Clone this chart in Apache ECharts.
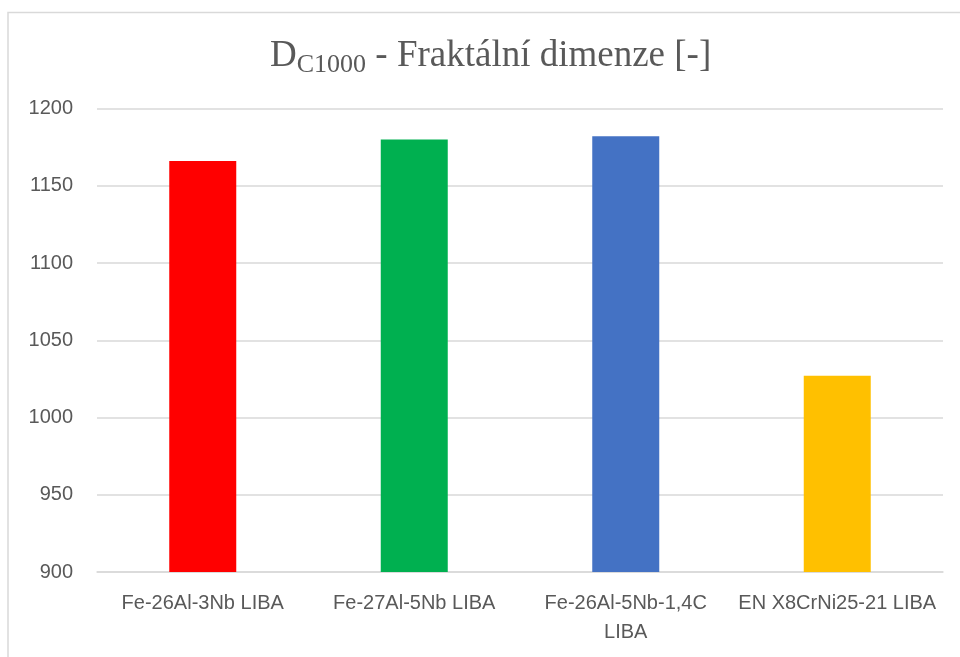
<!DOCTYPE html>
<html>
<head>
<meta charset="utf-8">
<title>Fraktální dimenze</title>
<script src="https://cdn.jsdelivr.net/npm/echarts@6/dist/echarts.min.js"></script>
<style>
  html, body { margin: 0; padding: 0; background: #ffffff; }
  #chart { width: 960px; height: 657px; }
</style>
</head>
<body>
<div id="chart"></div>
<script>
// Materials (category axis labels)
const categories = [
  'Fe-26Al-3Nb LIBA',
  'Fe-27Al-5Nb LIBA',
  'Fe-26Al-5Nb-1,4C\nLIBA',
  'EN X8CrNi25-21 LIBA'
];
// Fractal dimension D_C1000 per material
const values = [1166, 1180, 1182, 1027];
// Bar fill per material
const barColors = ['#ff0000', '#00b050', '#4472c4', '#ffc000'];
// Value axis range
const yMin = 900;
const yMax = 1200;
const yStep = 50;

const labelFont = '"Liberation Sans", Arial, sans-serif';
const titleFont = '"Liberation Serif", "Times New Roman", serif';

const chart = echarts.init(document.getElementById('chart'), null, { renderer: 'canvas' });

chart.setOption({
  animation: false,
  backgroundColor: '#ffffff',
  title: {
    text: '{m|D}{s|C1000}{m| - Fraktální dimenze [-]}',
    left: 270,
    top: 34,
    padding: 0,
    textStyle: {
      fontWeight: 'normal',
      rich: {
        m: { fontFamily: titleFont, fontWeight: 'normal', fontSize: 37, color: '#595959', lineHeight: 44, verticalAlign: 'middle' },
        s: { fontFamily: titleFont, fontWeight: 'normal', fontSize: 26, color: '#595959', lineHeight: 21, verticalAlign: 'bottom' }
      }
    }
  },
  graphic: [{
    type: 'rect',
    shape: { x: 8, y: 12.5, width: 1000, height: 700 },
    style: { fill: 'none', stroke: '#d9d9d9', lineWidth: 1.5 },
    silent: true,
    z: -1
  }],
  grid: { left: 97, right: 17, top: 108.5, bottom: 85, containLabel: false },
  xAxis: {
    type: 'category',
    data: categories,
    axisLine: { show: true, lineStyle: { color: '#d9d9d9', width: 1.5 } },
    axisTick: { show: false },
    axisLabel: {
      interval: 0,
      margin: 17,
      color: '#595959',
      fontFamily: labelFont,
      fontSize: 20,
      lineHeight: 29
    }
  },
  yAxis: {
    type: 'value',
    min: yMin,
    max: yMax,
    interval: yStep,
    axisLine: { show: false },
    axisTick: { show: false },
    splitLine: { show: true, lineStyle: { color: '#d9d9d9', width: 1.5 } },
    axisLabel: {
      margin: 24,
      color: '#595959',
      fontFamily: labelFont,
      fontSize: 20,
      formatter: (v) => String(v)
    }
  },
  series: [{
    type: 'bar',
    barWidth: 67,
    data: values.map((v, i) => ({ value: v, itemStyle: { color: barColors[i] } }))
  }]
});
</script>
</body>
</html>
